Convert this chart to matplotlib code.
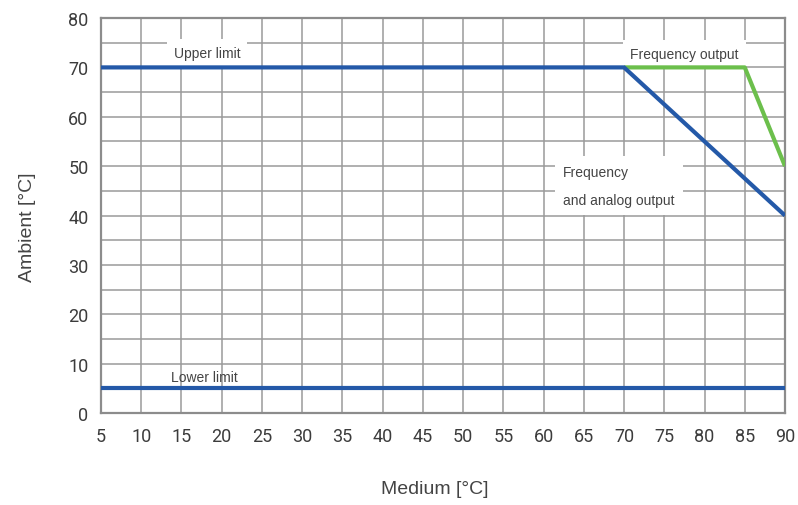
import matplotlib
matplotlib.use("Agg")
import matplotlib.pyplot as plt

x_ticks = list(range(5, 95, 5))
y_ticks = list(range(0, 90, 10))

analog_x = [5, 70, 90]
analog_y = [70, 70, 40]
freq_x = [70, 85, 90]
freq_y = [70, 70, 50]
lower_x = [5, 90]
lower_y = [5, 5]

blue = "#2459a8"
green = "#6cbf4c"
txt = "#444444"

fig = plt.figure(figsize=(7.98, 5.06), dpi=100)
ax = fig.add_axes([0.1266, 0.1818, 0.8571, 0.7806])

ax.set_xlim(5, 90)
ax.set_ylim(0, 80)
ax.set_xticks(x_ticks)
ax.set_yticks(y_ticks)
ax.set_yticks(range(0, 85, 5), minor=True)
ax.grid(True, which="both", color="#9a9a9a", linewidth=1.1)
ax.set_axisbelow(True)
ax.tick_params(which="both", length=0, labelsize=13, labelcolor="#3c3c3c")
ax.tick_params(axis="x", pad=10)
ax.tick_params(axis="y", pad=9)
for lab in ax.get_xticklabels() + ax.get_yticklabels():
    lab.set_family("Roboto")
for s in ax.spines.values():
    s.set_color("#8c8c8c")
    s.set_linewidth(1.6)

ax.plot(freq_x, freq_y, color=green, lw=3.0, zorder=3, solid_capstyle="butt")
ax.plot(analog_x, analog_y, color=blue, lw=3.0, zorder=4, solid_capstyle="butt")
ax.plot(lower_x, lower_y, color=blue, lw=3.0, zorder=4, solid_capstyle="butt")

lt = dict(fontsize=10, color=txt, family="Liberation Sans")
box = dict(facecolor="white", edgecolor="none", pad=5)
ax.text(18.2, 72.9, "Upper limit", ha="center", va="center", bbox=box,
        zorder=2, **lt)
ax.text(77.5, 72.7, "Frequency output", ha="center", va="center", bbox=box,
        zorder=2, **lt)
ax.text(62.4, 46.0, "Frequency\nand analog output", ha="left", va="center",
        linespacing=2.3, bbox=dict(facecolor="white", edgecolor="none", pad=6),
        zorder=2, **lt)
ax.text(17.9, 7.3, "Lower limit", ha="center", va="center", zorder=2, **lt)

fig.text(0.034, 0.551, "Ambient [°C]", rotation=90, ha="center", va="center",
         fontsize=14, color=txt, family="Liberation Sans")
fig.text(0.545, 0.032, "Medium [°C]", ha="center", va="center",
         fontsize=14, color=txt, family="Liberation Sans")

fig.savefig("out.png", dpi=100)
